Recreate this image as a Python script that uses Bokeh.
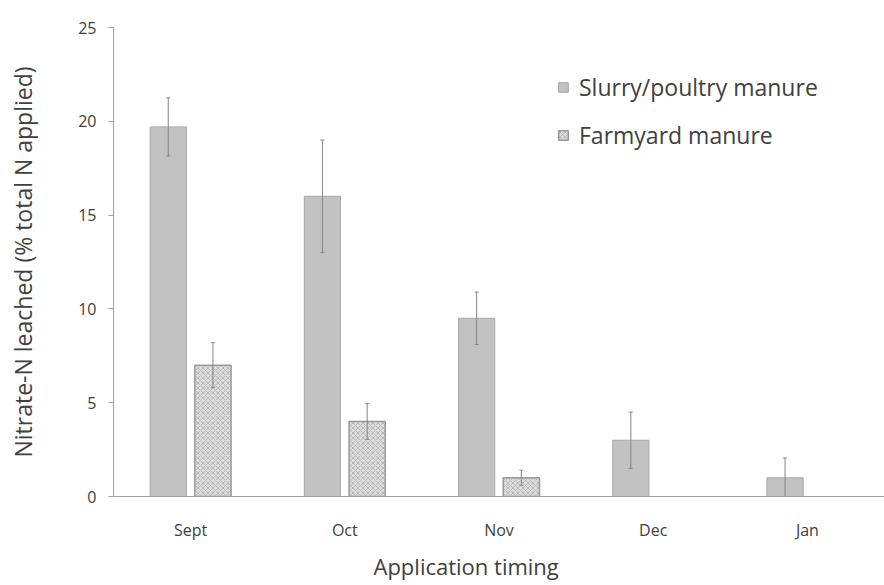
from bokeh.plotting import figure
from bokeh.models import (ColumnDataSource, Range1d, FixedTicker, Whisker, TeeHead,
                          Legend, LegendItem, Title)
from bokeh.embed import file_html
from bokeh.resources import INLINE

months = ["Sept", "Oct", "Nov", "Dec", "Jan"]
slurry = [19.7, 16.0, 9.5, 3.0, 1.0]
slurry_err = [1.55, 3.0, 1.4, 1.5, 1.05]
fym_months = ["Sept", "Oct", "Nov"]
fym = [7.0, 4.0, 1.0]
fym_err = [1.2, 0.95, 0.4]
y_ticks = [0, 5, 10, 15, 20, 25]

FONT = "Open Sans"
OFF = 0.145
W = 0.235

pos = {m: i + 0.5 for i, m in enumerate(months)}

s_src = ColumnDataSource(dict(
    x=[pos[m] - OFF for m in months], top=slurry,
    lo=[v - e for v, e in zip(slurry, slurry_err)],
    hi=[v + e for v, e in zip(slurry, slurry_err)]))
f_src = ColumnDataSource(dict(
    x=[pos[m] + OFF for m in fym_months], top=fym,
    lo=[v - e for v, e in zip(fym, fym_err)],
    hi=[v + e for v, e in zip(fym, fym_err)]))

p = figure(width=884, height=585, output_backend="svg", toolbar_location=None,
           x_range=Range1d(0, len(months)), y_range=Range1d(0, 25),
           min_border_left=113, min_border_right=0, min_border_top=27,
           min_border_bottom=88)
p.outline_line_color = None
p.grid.visible = False
p.background_fill_color = "white"

r1 = p.vbar(x="x", top="top", width=W, source=s_src, fill_color="#c2c2c2",
            line_color="#a8a8a8", line_width=1)
r2 = p.vbar(x="x", top="top", width=W, source=f_src, fill_color="#dcdcdc",
            line_color="#999999", line_width=1.5, hatch_pattern="diagonal_cross",
            hatch_color="#bababa", hatch_scale=5, hatch_weight=1)

for src in (s_src, f_src):
    wk = Whisker(base="x", lower="lo", upper="hi", source=src,
                 line_color="#858585", line_width=1, level="overlay",
                 lower_head=TeeHead(size=4, line_color="#858585"),
                 upper_head=TeeHead(size=4, line_color="#858585"))
    p.add_layout(wk)

# axes
p.xaxis.ticker = FixedTicker(ticks=[pos[m] for m in months])
p.xaxis.major_label_overrides = {pos[m]: m for m in months}
p.xaxis.major_tick_line_color = None
p.xaxis.minor_tick_line_color = None
p.xaxis.axis_line_color = "#a0a0a0"
p.xaxis.major_label_standoff = 16
p.xaxis.major_label_text_font = FONT
p.xaxis.major_label_text_font_size = "16px"
p.xaxis.major_label_text_color = "#404040"

p.yaxis.ticker = FixedTicker(ticks=y_ticks)
p.yaxis.minor_tick_line_color = None
p.yaxis.major_tick_in = 0
p.yaxis.major_tick_out = 5
p.yaxis.major_tick_line_color = "#a0a0a0"
p.yaxis.axis_line_color = "#a0a0a0"
p.yaxis.major_label_standoff = 12
p.yaxis.major_label_text_font = FONT
p.yaxis.major_label_text_font_size = "16px"
p.yaxis.major_label_text_color = "#404040"
p.yaxis.axis_label = "Nitrate-N leached (% total N applied)"
p.yaxis.axis_label_text_font = FONT
p.yaxis.axis_label_text_font_style = "normal"
p.yaxis.axis_label_text_font_size = "23px"
p.yaxis.axis_label_text_color = "#404040"
p.yaxis.axis_label_standoff = 36

xt = Title(text="Application timing", align="left", offset=260,
           text_font=FONT, text_font_size="22px", text_font_style="normal",
           text_color="#404040", standoff=10)
p.add_layout(xt, "below")

legend = Legend(items=[LegendItem(label="Slurry/poultry manure", renderers=[r1]),
                       LegendItem(label="Farmyard manure", renderers=[r2])],
                location=(444, 345), orientation="vertical",
                glyph_width=12, glyph_height=12, label_height=31, spacing=16,
                label_standoff=10, padding=0, margin=0,
                label_text_font=FONT, label_text_font_size="23px",
                label_text_color="#404040", border_line_color=None,
                background_fill_alpha=0)
p.add_layout(legend)

open("out.html", "w").write(file_html(p, INLINE))
